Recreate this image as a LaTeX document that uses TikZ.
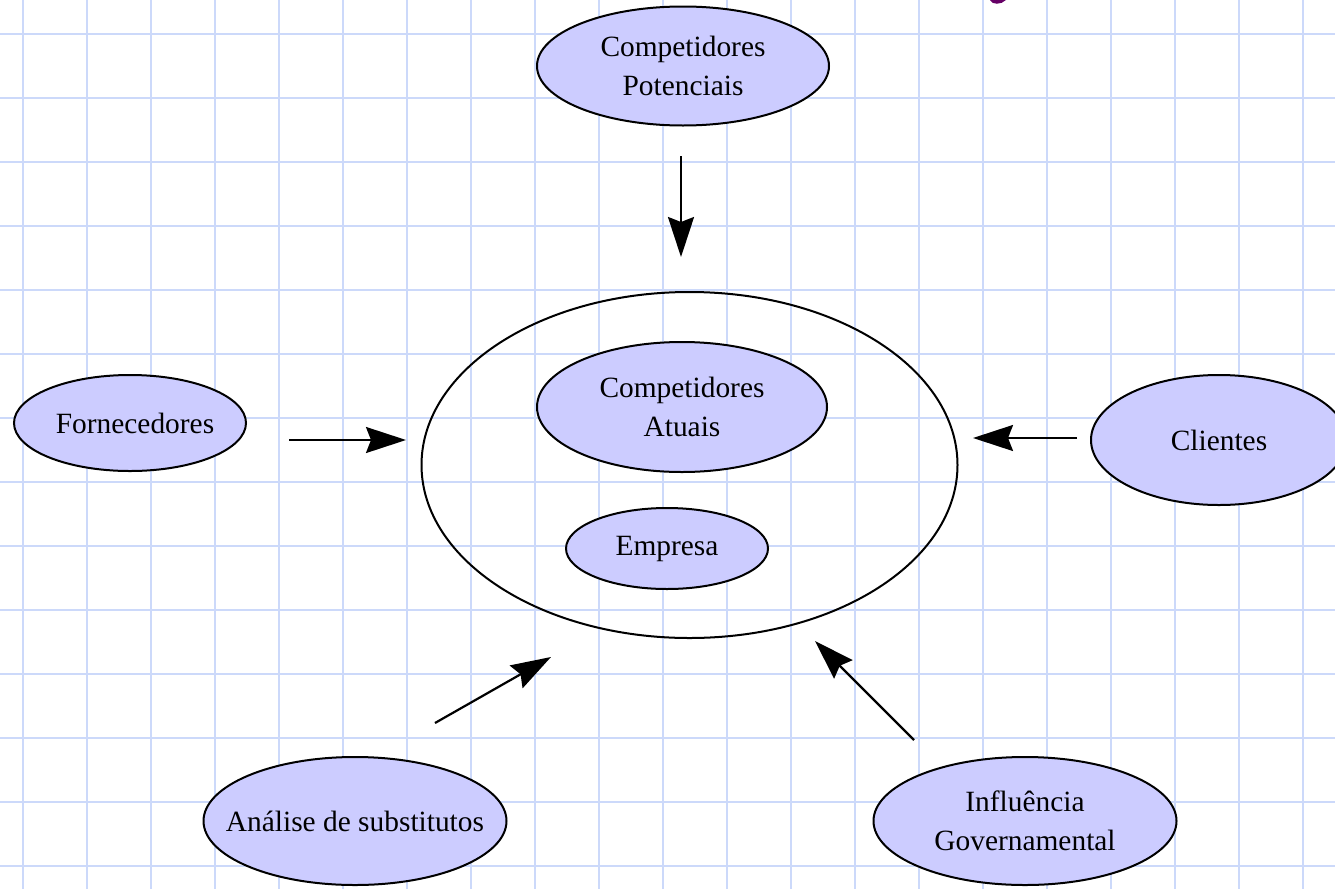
\documentclass[tikz,border=0pt]{standalone}
\usepackage{fontspec}
\setmainfont{Liberation Serif}
\usetikzlibrary{shapes.geometric,arrows.meta}
\definecolor{gridblue}{RGB}{204,217,250}
\definecolor{ovalfill}{RGB}{204,204,255}
\definecolor{titlepurple}{RGB}{102,0,102}
\begin{document}
\begin{tikzpicture}[x=1pt,y=-1pt,
  gridline/.style={gridblue,line width=2pt},
  oval/.style={ellipse,draw=black,line width=2pt,fill=ovalfill,inner sep=0pt},
  ring/.style={ellipse,draw=black,line width=2pt,inner sep=0pt},
  ovaltext/.style={align=center,inner sep=0pt,font=\fontsize{29.4}{39}\selectfont},
  force/.style={line width=2.2pt,-{Stealth[length=40pt,width=26pt,inset=5pt]}}]

% page and squared paper
\fill[white] (0,0) rectangle (1335,889);
\useasboundingbox (0,0) rectangle (1335,889);
\foreach \x in {23,87,...,1303} \draw[gridline] (\x,0) -- (\x,889);
\foreach \y in {34,98,...,866} \draw[gridline] (0,\y) -- (1335,\y);

% tail of the heading glyph cut by the top edge
\fill[titlepurple] (990,0) .. controls (992,5) and (1001,5) .. (1006,0) -- cycle;

% the industry ring with the firms inside
\node[ring, minimum width=536pt, minimum height=346pt] (mercado) at (689.5,465) {};
\node[oval, minimum width=290pt, minimum height=130pt] (atuais) at (682,407) {};
\node[ovaltext] (atuais-t) at (atuais) {Competidores\\Atuais};
\node[oval, minimum width=202pt, minimum height=81pt] (empresa) at (667,548.5) {};
\node[ovaltext] (empresa-t) at (empresa) {Empresa};

% outside forces
\node[oval, minimum width=292pt, minimum height=119pt] (potenciais) at (683,66) {};
\node[ovaltext] (potenciais-t) at (potenciais) {Competidores\\Potenciais};
\node[oval, minimum width=232pt, minimum height=96pt] (fornec) at (130,423) {};
\node[ovaltext] (fornec-t) at ([xshift=5pt]fornec.center) {Fornecedores};
\node[oval, minimum width=256pt, minimum height=130pt] (clientes) at (1219,440) {};
\node[ovaltext] (clientes-t) at (clientes) {Clientes};
\node[oval, minimum width=303pt, minimum height=128pt] (subst) at (355,821) {};
\node[ovaltext] (subst-t) at (subst) {Análise de substitutos};
\node[oval, minimum width=303pt, minimum height=128pt] (governo) at (1025,821) {};
\node[ovaltext] (governo-t) at (governo) {Influência\\Governamental};

% arrow ends
\coordinate (potA) at (681,156);  \coordinate (potB) at (681,257);
\coordinate (forA) at (289,440);  \coordinate (forB) at (406,440);
\coordinate (cliA) at (1077,438); \coordinate (cliB) at (973,438);
\coordinate (subA) at (435,723);  \coordinate (subB) at (551,657);
\coordinate (govA) at (914,740);  \coordinate (govB) at (815,641);

\draw[force] (potA) -- (potB);
\draw[force] (forA) -- (forB);
\draw[force] (cliA) -- (cliB);
\draw[force] (subA) -- (subB);
\draw[force] (govA) -- (govB);
\end{tikzpicture}
\end{document}
